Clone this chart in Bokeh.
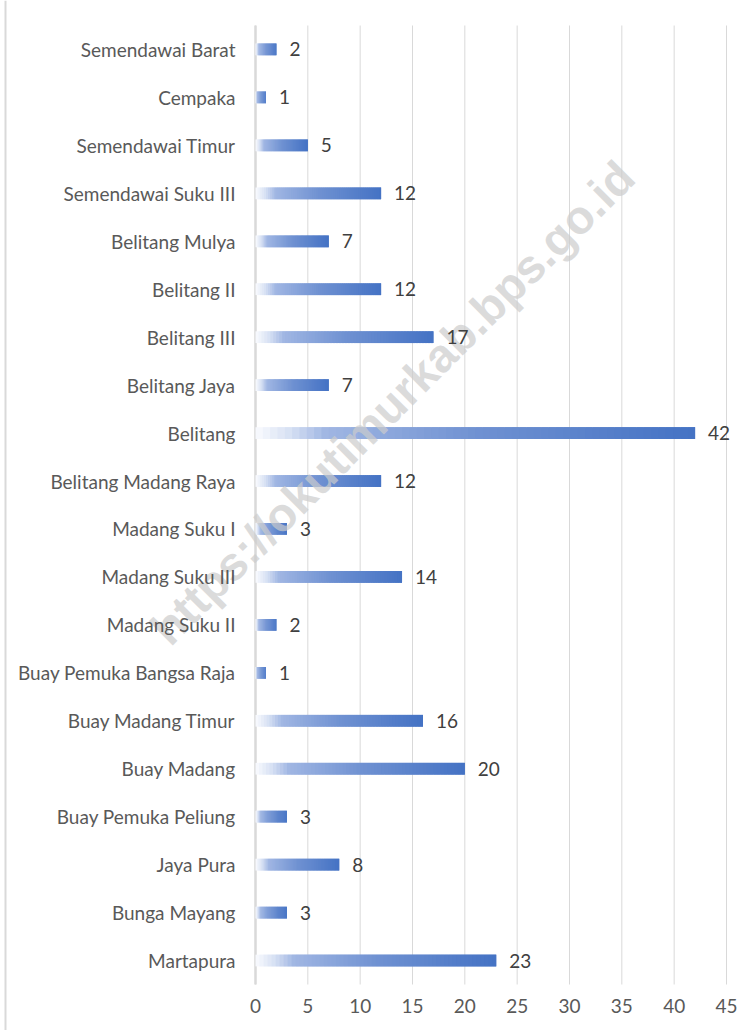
from bokeh.plotting import figure
from bokeh.models import Range1d, ColumnDataSource, Span
from bokeh.embed import file_html
from bokeh.resources import INLINE
from bokeh.core.properties import value

# ---- data (top to bottom as in the chart) ----
districts = [
    "Semendawai Barat", "Cempaka", "Semendawai Timur", "Semendawai Suku III",
    "Belitang Mulya", "Belitang II", "Belitang III", "Belitang Jaya", "Belitang",
    "Belitang Madang Raya", "Madang Suku I", "Madang Suku III", "Madang Suku II",
    "Buay Pemuka Bangsa Raja", "Buay Madang Timur", "Buay Madang",
    "Buay Pemuka Peliung", "Jaya Pura", "Bunga Mayang", "Martapura",
]
counts = [2, 1, 5, 12, 7, 12, 17, 7, 42, 12, 3, 14, 2, 1, 16, 20, 3, 8, 3, 23]
x_ticks = [0, 5, 10, 15, 20, 25, 30, 35, 40, 45]
watermark = "https://okutimurkab.bps.go.id"

n = len(districts)
rows = [n - 0.5 - i for i in range(n)]          # numeric row centres, first at top

# ---- layout (pixels) ----
W, H = 752, 1030
PL, PR, PT, PB = 255, 726, 25, 984             # plot area edges on the canvas
kx = (PR - PL) / (x_ticks[-1] - x_ticks[0])
ky = (PB - PT) / n

# ---- gradient (white -> blue along each bar) ----
stops = [(0.0, (250, 251, 254)), (0.08, (214, 224, 243)), (0.16, (160, 182, 227)),
         (0.5, (112, 146, 210)), (1.0, (68, 114, 196))]


def grad(t):
    for (t0, c0), (t1, c1) in zip(stops[:-1], stops[1:]):
        if t <= t1:
            f = (t - t0) / (t1 - t0)
            return "#%02x%02x%02x" % tuple(int(round(a + (b - a) * f)) for a, b in zip(c0, c1))
    return "#%02x%02x%02x" % stops[-1][1]


N = 60
seg_y, seg_l, seg_r, seg_c = [], [], [], []
for r, v in zip(rows, counts):
    for j in range(N):
        seg_y.append(r)
        seg_l.append(v * j / N)
        seg_r.append(min(v * (j + 2) / N, v))   # overlap to hide seams
        seg_c.append(grad((j + 0.5) / N))

p = figure(
    width=W, height=H, output_backend="svg", toolbar_location=None,
    x_range=Range1d(x_ticks[0] - PL / kx, x_ticks[-1] + (W - PR) / kx),
    y_range=Range1d(-(H - PB) / ky, n + PT / ky),
    min_border=0, x_axis_type=None, y_axis_type=None,
)
p.outline_line_color = None
p.background_fill_color = "white"
p.border_fill_color = "white"
p.xgrid.grid_line_color = None
p.ygrid.grid_line_color = None

# vertical grid lines
p.segment(x0=x_ticks, x1=x_ticks, y0=[0] * len(x_ticks), y1=[n] * len(x_ticks),
          line_color="#d9d9d9", line_width=1)
# value axis line
p.segment(x0=[0], x1=[0], y0=[0], y1=[n], line_color="#d9d9d9", line_width=2.5)
# chart border on the left
p.add_layout(Span(location=5, location_units="screen", dimension="height",
                  line_color="#d9d9d9", line_width=2))

# gradient bars
p.hbar(y=seg_y, left=seg_l, right=seg_r, height=0.245, fill_color=seg_c,
       line_color=None)

# watermark (over bars, under texts)
p.text(x=[(392 - PL) / kx], y=[n - (402 - PT) / ky], text=[watermark],
       angle=45, angle_units="deg", text_align="center", text_baseline="middle",
       text_font=value("Liberation Sans"), text_font_style="bold",
       text_font_size="47px", text_color="#cccccc", text_alpha=0.7)

# data labels
src = ColumnDataSource(dict(x=counts, y=rows, t=[str(c) for c in counts]))
p.text(x="x", y="y", text="t", source=src, x_offset=13, text_align="left",
       text_baseline="middle", text_font=value("Lato"), text_font_size="19px",
       text_color="#404040")

# category labels
p.text(x=[0] * n, y=rows, text=districts, x_offset=-20, text_align="right",
       text_baseline="middle", text_font=value("Lato"), text_font_size="19px",
       text_color="#595959")

# tick labels
p.text(x=x_ticks, y=[0] * len(x_ticks), text=[str(t) for t in x_ticks], y_offset=21,
       text_align="center", text_baseline="middle", text_font=value("Lato"),
       text_font_size="19px", text_color="#595959")

open("out.html", "w").write(file_html(p, INLINE))
